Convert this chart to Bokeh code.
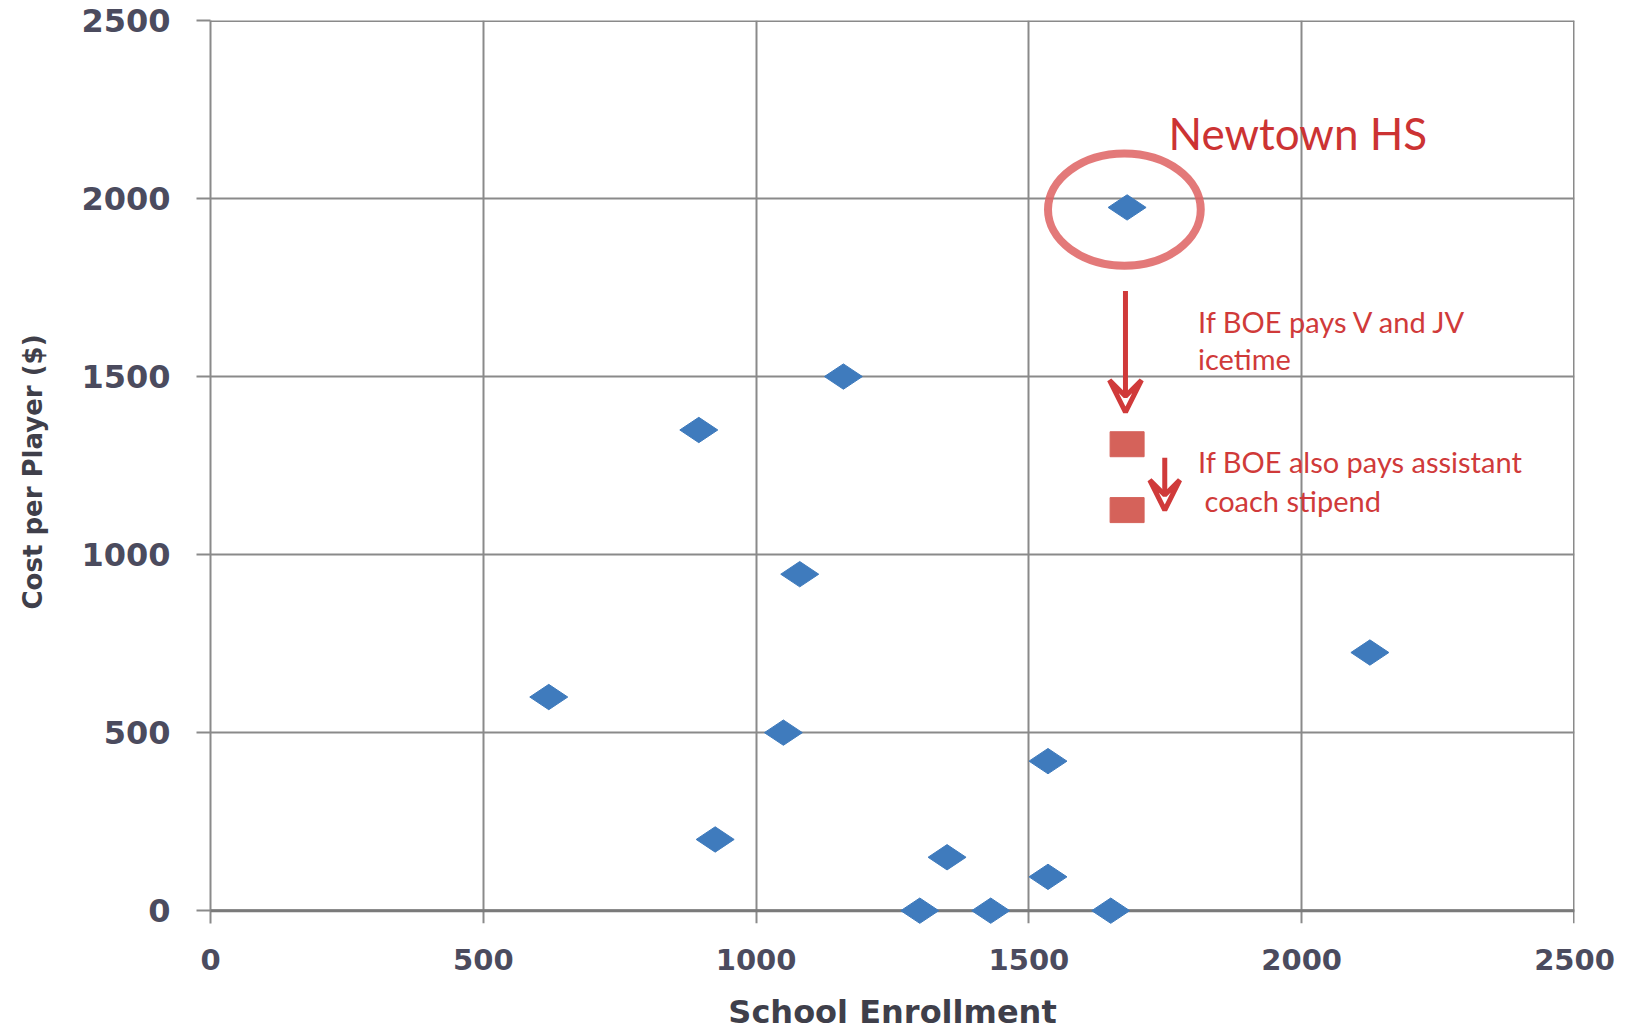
from bokeh.plotting import figure
from bokeh.models import Range1d, Label, Arrow, VeeHead, FixedTicker, ColumnDataSource, Span
from bokeh.embed import file_html
from bokeh.resources import INLINE
import math

# --- data ---
enrollment = [620, 895, 925, 1050, 1080, 1160, 1300, 1350, 1430, 1535, 1535, 1650, 1680, 2125]
cost_per_player = [600, 1350, 200, 500, 945, 1500, 0, 150, 0, 420, 95, 0, 1975, 725]

newtown_x = [1680, 1680]
newtown_scenarios = [1310, 1125]

ticks = [0, 500, 1000, 1500, 2000, 2500]

p = figure(width=1630, height=1033, output_backend="svg", toolbar_location=None,
           x_range=Range1d(0, 2500), y_range=Range1d(-36, 2500),
           min_border_left=210, min_border_right=56, min_border_top=20, min_border_bottom=109)
p.background_fill_color = "white"
p.border_fill_color = "white"
p.outline_line_color = None

for ax in (p.xaxis, p.yaxis):
    ax.ticker = FixedTicker(ticks=ticks)
    ax.major_label_text_font = "DejaVu Sans"
    ax.major_label_text_font_style = "bold"
    ax.major_label_text_color = "#4b4b5e"
    ax.minor_tick_line_color = None
    ax.major_tick_in = 0
    ax.major_tick_line_color = "#8a8a8a"
    ax.major_tick_line_width = 2
    ax.axis_label_text_font = "DejaVu Sans"
    ax.axis_label_text_font_style = "bold"
    ax.axis_label_text_color = "#3f3f4a"

p.xaxis.axis_line_color = None
p.xaxis.major_tick_out = 0
p.xaxis.major_label_text_font_size = "29px"
p.xaxis.major_label_standoff = 25
p.xaxis.axis_label = "School Enrollment"
p.xaxis.axis_label_text_font_size = "32px"
p.xaxis.axis_label_standoff = 20

p.yaxis.axis_line_color = "#8a8a8a"
p.yaxis.axis_line_width = 2
p.yaxis.major_tick_out = 14
p.yaxis.major_label_text_font_size = "32px"
p.yaxis.major_label_standoff = 26
p.yaxis.axis_label = "Cost per Player ($)"
p.yaxis.axis_label_text_font_size = "26px"
p.yaxis.axis_label_standoff = 30

for g in (p.xgrid, p.ygrid):
    g.ticker = FixedTicker(ticks=ticks)
    g.grid_line_color = "#8a8a8a"
    g.grid_line_width = 2

# top and right border lines, and the zero line
p.add_layout(Span(location=2500, dimension="width", line_color="#8a8a8a", line_width=3))
p.add_layout(Span(location=2500, dimension="height", line_color="#8a8a8a", line_width=3))
p.add_layout(Span(location=0, dimension="width", line_color="#7a7a7a", line_width=3))

# highlight ellipse around Newtown HS
p.ellipse(x=[1675], y=[1969], width=[280], height=[315], fill_color=None,
          line_color="#de6262", line_width=8, line_alpha=0.85)

src = ColumnDataSource(dict(x=enrollment, y=cost_per_player))
p.scatter("x", "y", source=src, marker="diamond", size=38, angle=math.pi / 2,
          fill_color="#3f7bbd", line_color="#3f7bbd", level="overlay")

p.rect(x=newtown_x, y=newtown_scenarios, width=34, height=25,
       width_units="screen", height_units="screen",
       fill_color="#d5625a", line_color="#d5625a")

red = "#d03a3a"
p.add_layout(Arrow(end=VeeHead(size=32, fill_color=None, line_color=red, line_width=5),
                   x_start=1677, y_start=1740, x_end=1677, y_end=1400,
                   line_color=red, line_width=5))
p.add_layout(Arrow(end=VeeHead(size=30, fill_color=None, line_color=red, line_width=5),
                   x_start=1749, y_start=1272, x_end=1749, y_end=1125,
                   line_color=red, line_width=5))

p.add_layout(Label(x=1756, y=2184, text="Newtown HS", text_font="Lato",
                   text_font_size="44px", text_color="#cc3333", text_baseline="middle"))

for txt, xx, yy in [("If BOE pays V and JV", 1810, 1655), ("icetime", 1810, 1550),
                    ("If BOE also pays assistant", 1810, 1262), ("coach stipend", 1822, 1152)]:
    p.add_layout(Label(x=xx, y=yy, text=txt, text_font="Lato",
                       text_font_size="29px", text_color="#d03a3a", text_baseline="middle"))

open("out.html", "w").write(file_html(p, INLINE))
